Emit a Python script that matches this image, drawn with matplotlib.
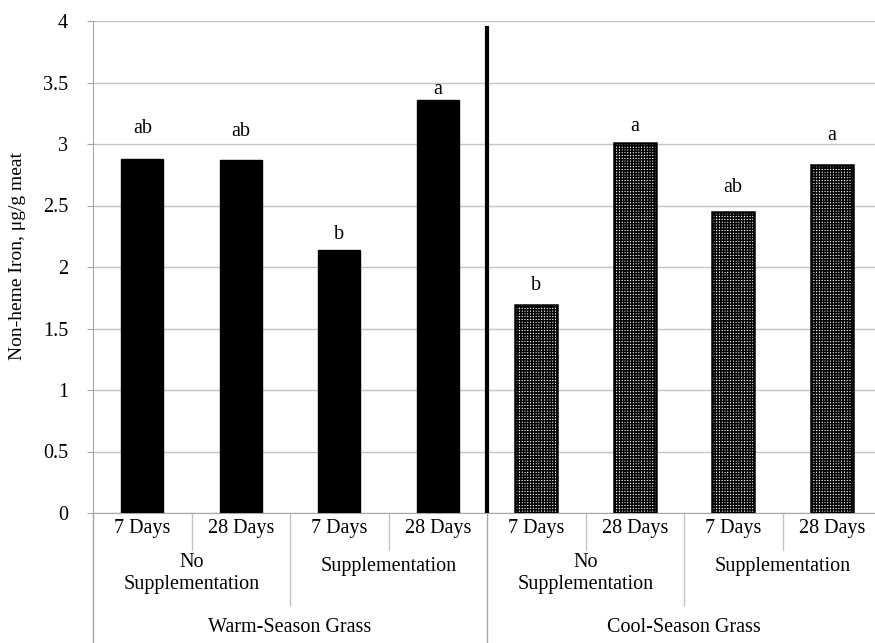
import numpy as np
from matplotlib import pyplot as plt

plt.rcParams['font.family'] = ['Liberation Serif', 'DejaVu Serif']
plt.rcParams['hatch.linewidth'] = 1.1

# Data
days = ['7 Days', '28 Days', '7 Days', '28 Days', '7 Days', '28 Days', '7 Days', '28 Days']
supplement = ['No\nSupplementation', 'Supplementation', 'No\nSupplementation', 'Supplementation']
grass = ['Warm-Season Grass', 'Cool-Season Grass']
iron = [2.88, 2.87, 2.14, 3.36, 1.69, 3.01, 2.45, 2.83]
letters = ['ab', 'ab', 'b', 'a', 'b', 'a', 'ab', 'a']

W, H = 875, 643
fig = plt.figure(figsize=(W/100, H/100), dpi=100)
left, right, top, bottom = 93, 881, 21, 513
ax = fig.add_axes([left/W, 1-bottom/H, (right-left)/W, (bottom-top)/H])

grey = '#a6a6a6'
light = '#c4c4c4'
fs = 14.5
x = np.arange(len(iron))
for i in range(len(iron)):
    if i < 4:
        ax.bar(x[i], iron[i], width=0.43, color='black', edgecolor='black', zorder=3)
    else:
        ax.bar(x[i], iron[i], width=0.43, facecolor='white', edgecolor='black',
               hatch='++++++', linewidth=1.8, zorder=3)

# letters above bars (pixel gaps to letter centre)
gaps = [30, 28, 15, 10, 20, 16, 24, 29]
for i in range(len(iron)):
    ax.annotate(letters[i], (x[i], iron[i]), xytext=(0, gaps[i]*0.72),
                textcoords='offset points', ha='center', va='center', fontsize=fs)

ax.set_xlim(-0.5, 7.5)
ax.set_ylim(0, 4)
ax.set_yticks(np.arange(0, 4.01, 0.5))
ax.set_yticklabels(['0', '0.5', '1', '1.5', '2', '2.5', '3', '3.5', '4'])
ax.yaxis.grid(True, color=light, linewidth=1.0)
ax.set_axisbelow(True)
ax.tick_params(axis='y', length=4, color=grey, pad=14, labelsize=fs)
ax.set_xticks([])
for s in ['top', 'right']:
    ax.spines[s].set_visible(False)
for s in ['left', 'bottom']:
    ax.spines[s].set_color(grey)

# thick divider between grass types
ax.plot([3.5, 3.5], [0, 3.94], color='black', linewidth=3, zorder=4)

# multi-level category axis
tr = ax.get_xaxis_transform()
def yf(py):
    return (bottom - py) / (bottom - top)

for i in range(len(days)):
    ax.text(x[i], yf(528), days[i], transform=tr, ha='center', va='center', fontsize=fs)
for k in range(len(supplement)):
    cx = 2*k + 0.5
    if supplement[k].startswith('No'):
        ax.text(cx, yf(553), supplement[k], transform=tr, ha='center', va='top',
                fontsize=fs, linespacing=1.22)
    else:
        ax.text(cx, yf(566), supplement[k], transform=tr, ha='center', va='center', fontsize=fs)
for g in range(len(grass)):
    ax.text(4*g + 1.5, yf(628), grass[g], transform=tr, ha='center', va='center', fontsize=fs)

for b in [0.5, 2.5, 4.5, 6.5]:
    ax.plot([b, b], [0, yf(550)], transform=tr, color=light, lw=1, clip_on=False)
for b in [1.5, 5.5]:
    ax.plot([b, b], [0, yf(605)], transform=tr, color=light, lw=1, clip_on=False)
for b in [-0.5, 3.5, 7.5]:
    ax.plot([b, b], [0, yf(643)], transform=tr, color=grey, lw=1, clip_on=False)

fig.text(18/W, 1-256/H, 'Non-heme Iron, μg/g meat', rotation=90,
         ha='center', va='center', fontsize=14)

fig.savefig('out.png', dpi=100)
